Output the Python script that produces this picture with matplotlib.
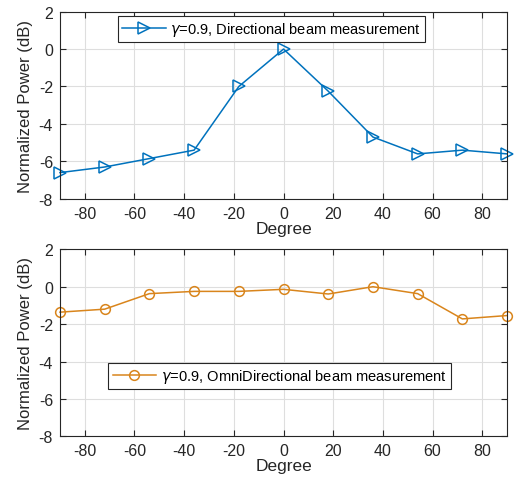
import matplotlib
matplotlib.use('Agg')
import matplotlib.pyplot as plt

# ---------- DATA ----------
degrees = [-90, -72, -54, -36, -18, 0, 18, 36, 54, 72, 90]
directional_db = [-6.6, -6.3, -5.85, -5.4, -2.0, 0.0, -2.25, -4.7, -5.6, -5.4, -5.6]
omni_db = [-1.36, -1.2, -0.37, -0.25, -0.25, -0.14, -0.39, 0.0, -0.37, -1.72, -1.54]
x_ticks = [-80, -60, -40, -20, 0, 20, 40, 60, 80]
y_ticks = [-8, -6, -4, -2, 0, 2]
# --------------------------

BLUE = '#0072BD'
ORANGE = '#D9851C'
AXIS_COLOR = '#262626'

plt.rcParams['font.family'] = ['Liberation Sans', 'DejaVu Sans']
plt.rcParams['mathtext.fontset'] = 'dejavusans'
plt.rcParams['axes.unicode_minus'] = False

fig = plt.figure(figsize=(5.26, 4.85), dpi=100)
ax_top = fig.add_axes([0.114, 0.588, 0.850, 0.386])
ax_bot = fig.add_axes([0.114, 0.098, 0.850, 0.386])


def style_axes(ax):
    ax.set_xlim(-90, 90)
    ax.set_ylim(-8, 2)
    ax.set_xticks(x_ticks)
    ax.set_yticks(y_ticks)
    ax.grid(True, color='#DEDEDE', linewidth=0.8)
    ax.set_axisbelow(True)
    ax.tick_params(direction='in', length=4, width=0.8, top=True, right=True,
                   labelsize=11.5, colors=AXIS_COLOR, pad=5)
    for sp in ax.spines.values():
        sp.set_color(AXIS_COLOR)
        sp.set_linewidth(0.8)
    ax.set_xlabel('Degree', fontsize=12.5, color=AXIS_COLOR, labelpad=0)
    ax.set_ylabel('Normalized Power (dB)', fontsize=12, color=AXIS_COLOR, labelpad=4)


def add_legend(ax, anchor):
    leg = ax.legend(loc='center', bbox_to_anchor=anchor, fontsize=10.5,
                    fancybox=False, edgecolor=AXIS_COLOR, framealpha=1,
                    handlelength=3.0, borderpad=0.3, handletextpad=0.3)
    leg.get_frame().set_linewidth(0.8)


ax_top.plot(degrees, directional_db, color=BLUE, linewidth=1.1, marker='>',
            markersize=8, markerfacecolor='none', markeredgewidth=1.1,
            label=r'$\gamma$=0.9, Directional beam measurement', clip_on=False)
style_axes(ax_top)
add_legend(ax_top, (0.473, 0.907))

ax_bot.plot(degrees, omni_db, color=ORANGE, linewidth=1.1, marker='o',
            markersize=7, markerfacecolor='none', markeredgewidth=1.1,
            label=r'$\gamma$=0.9, OmniDirectional beam measurement', clip_on=False)
style_axes(ax_bot)
add_legend(ax_bot, (0.491, 0.323))

fig.savefig('out.png', dpi=100)
